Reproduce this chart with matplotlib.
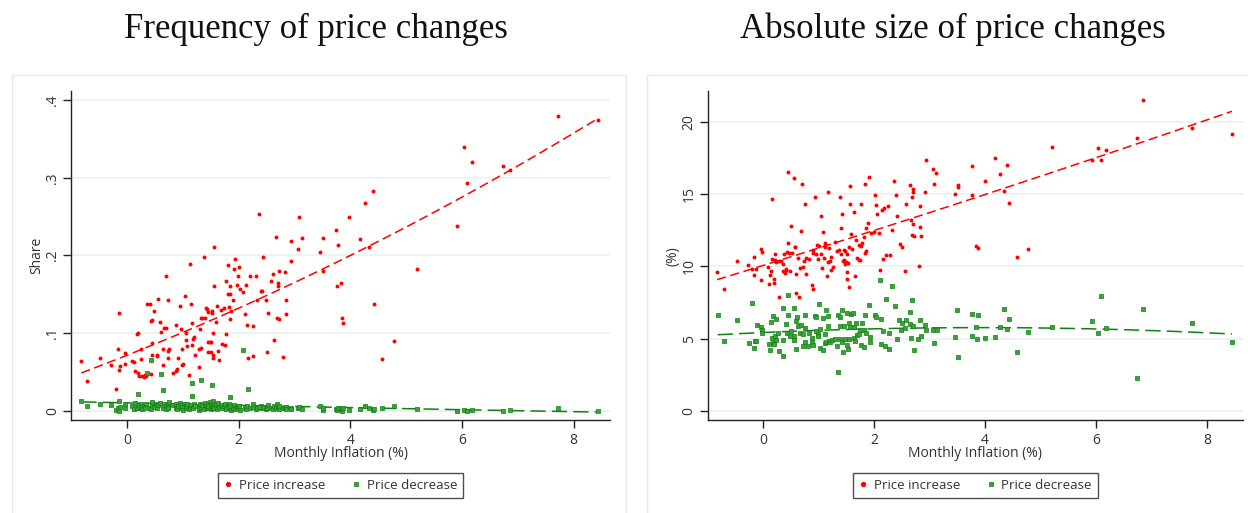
import numpy as np
import matplotlib
matplotlib.use('Agg')
import matplotlib.pyplot as plt
from matplotlib.patches import Rectangle
from matplotlib.lines import Line2D

plt.rcParams['font.family'] = ['Open Sans', 'DejaVu Sans']

RED = '#ff0000'
GREEN = '#0b840b'
GREEN_FACE = '#3f9e3f'

# --- frequency panel: one inflation value per month, share of increases / decreases
freq_x = [-0.82, -0.71, -0.48, -0.28, -0.20, -0.16, -0.14, -0.14, -0.12, -0.04,
          -0.03, 0.09, 0.12, 0.14, 0.17, 0.20, 0.19, 0.22, 0.24, 0.25,
          0.27, 0.30, 0.32, 0.34, 0.35, 0.41, 0.43, 0.44, 0.45, 0.43,
          0.45, 0.49, 0.54, 0.53, 0.55, 0.58, 0.60, 0.64, 0.64, 0.66,
          0.69, 0.69, 0.73, 0.74, 0.75, 0.74, 0.82, 0.87, 0.87, 0.90,
          0.92, 0.94, 0.96, 0.98, 0.98, 1.00, 1.03, 1.05, 1.06, 1.08,
          1.11, 1.12, 1.14, 1.16, 1.16, 1.18, 1.19, 1.22, 1.28, 1.29,
          1.31, 1.32, 1.33, 1.34, 1.38, 1.39, 1.42, 1.43, 1.44, 1.45,
          1.45, 1.48, 1.50, 1.51, 1.52, 1.52, 1.53, 1.53, 1.54, 1.55,
          1.56, 1.59, 1.61, 1.62, 1.65, 1.68, 1.70, 1.73, 1.76, 1.77,
          1.78, 1.80, 1.81, 1.83, 1.84, 1.84, 1.85, 1.86, 1.90, 1.91,
          1.94, 1.96, 1.99, 2.01, 2.02, 2.08, 2.12, 2.13, 2.15, 2.17,
          2.20, 2.25, 2.26, 2.31, 2.33, 2.39, 2.41, 2.44, 2.48, 2.51,
          2.53, 2.57, 2.36, 2.62, 2.64, 2.67, 2.68, 2.70, 2.70, 2.72,
          2.72, 2.80, 2.83, 2.84, 2.84, 2.93, 2.94, 3.06, 3.07, 3.13,
          3.45, 3.51, 3.50, 3.74, 3.76, 3.78, 3.84, 3.85, 3.87, 3.97,
          4.18, 4.26, 4.34, 4.40, 4.43, 4.57, 4.78, 5.20, 5.91, 6.03,
          6.08, 6.18, 6.73, 6.85, 7.72, 8.44]
freq_inc = [.064, .038, .068, .059, .028, .080, .126, .052, .057, .074,
            .060, .064, .063, .051, .099, .100, .049, .044, .079, .067,
            .044, .043, .046, .044, .138, .137, .116, .117, .087, .047,
            .072, .129, .072, .070, .144, .114, .101, .059, .079, .106,
            .106, .173, .068, .142, .080, .077, .048, .110, .051, .053,
            .068, .135, .105, .079, .059, .060, .148, .100, .091, .083,
            .046, .189, .137, .113, .084, .092, .095, .072, .080, .056,
            .105, .120, .081, .119, .198, .119, .132, .131, .127, .076,
            .088, .089, .076, .088, .129, .126, .072, .068, .100, .160,
            .211, .114, .135, .077, .065, .130, .086, .132, .085, .099,
            .167, .188, .150, .133, .118, .160, .150, .129, .142, .183,
            .196, .162, .173, .185, .157, .153, .124, .162, .110, .068,
            .173, .109, .071, .173, .142, .154, .154, .198, .142, .076,
            .126, .167, .254, .176, .091, .224, .120, .164, .160, .180,
            .118, .069, .179, .142, .124, .219, .193, .208, .249, .223,
            .204, .222, .180, .233, .160, .214, .165, .119, .113, .249,
            .221, .268, .211, .283, .137, .067, .090, .182, .238, .340,
            .293, .320, .315, .310, .380, .374]
freq_dec = [.013, .006, .008, .007, .001, .003, .012, .000, .005, .004,
            .009, .006, .002, .010, .004, .021, .007, .003, .009, .005,
            .002, .006, .003, .008, .049, .004, .065, .009, .006, .002,
            .011, .005, .008, .003, .007, .010, .047, .026, .004, .008,
            .006, .002, .009, .005, .011, .003, .007, .004, .009, .002,
            .006, .010, .003, .007, .005, .001, .008, .004, .006, .009,
            .002, .005, .007, .035, .019, .003, .008, .006, .001, .004,
            .009, .039, .005, .007, .002, .010, .006, .003, .008, .004,
            .006, .011, .002, .007, .033, .005, .009, .003, .012, .006,
            .004, .008, .002, .010, .005, .007, .003, .006, .009, .004,
            .002, .007, .005, .008, .017, .003, .006, .001, .004, .007,
            .002, .005, .003, .006, .001, .078, .004, .002, .006, .028,
            .003, .009, .005, .002, .004, .006, .003, .005, .002, .004,
            .007, .003, .005, .002, .006, .004, .008, .003, .005, .002,
            .006, .004, .003, .005, .002, .004, .002, .003, .005, .002,
            .006, .001, .003, .002, .001, .004, .002, .000, .003, .001,
            .002, .006, .003, .001, .002, .004, .006, .002, .000, .001,
            .000, .001, .000, .001, .003, .000]

# --- size panel (%), increases
size_inc_x = [-0.83, -0.71, -0.48, -0.28, -0.21, -0.17, -0.13, -0.16, -0.04, -0.03,
              -0.04, 0.08, 0.11, 0.13, 0.14, 0.16, 0.16, 0.19, 0.20, 0.21,
              0.22, 0.24, 0.28, 0.28, 0.33, 0.35, 0.36, 0.38, 0.40, 0.42,
              0.42, 0.43, 0.44, 0.45, 0.46, 0.48, 0.50, 0.52, 0.55, 0.57,
              0.58, 0.59, 0.60, 0.62, 0.64, 0.67, 0.69, 0.70, 0.72, 0.74,
              0.75, 0.77, 0.78, 0.82, 0.88, 0.89, 0.89, 0.90, 0.94, 0.96,
              0.97, 0.99, 1.01, 1.04, 1.04, 1.06, 1.08, 1.09, 1.11, 1.11,
              1.12, 1.15, 1.16, 1.17, 1.18, 1.20, 1.22, 1.23, 1.25, 1.29,
              1.33, 1.36, 1.38, 1.40, 1.41, 1.43, 1.44, 1.45, 1.46, 1.47,
              1.48, 1.50, 1.52, 1.52, 1.52, 1.53, 1.54, 1.54, 1.56, 1.57,
              1.59, 1.61, 1.63, 1.66, 1.67, 1.70, 1.72, 1.73, 1.74, 1.76,
              1.77, 1.79, 1.81, 1.83, 1.84, 1.85, 1.86, 1.89, 1.91, 1.94,
              1.99, 2.02, 2.04, 2.06, 2.09, 2.11, 2.15, 2.16, 2.18, 2.21,
              2.25, 2.28, 2.32, 2.35, 2.40, 2.42, 2.47, 2.50, 2.55, 2.57,
              2.65, 2.66, 2.68, 2.69, 2.70, 2.71, 2.71, 2.72, 2.81, 2.83,
              2.83, 2.84, 2.91, 2.94, 3.06, 3.08, 3.12, 3.46, 3.51, 3.52,
              3.76, 3.76, 3.84, 3.87, 3.99, 4.18, 4.27, 4.35, 4.40, 4.43,
              4.58, 4.78, 5.20, 5.92, 6.03, 6.09, 6.18, 6.74, 6.84, 7.73,
              8.45]
size_inc = [9.62, 8.46, 10.36, 10.10, 9.80, 10.66, 9.80, 9.41, 11.21, 10.98,
            9.06, 9.99, 8.79, 9.41, 9.71, 14.68, 10.50, 9.11, 8.86, 10.87,
            10.45, 10.27, 7.91, 10.38, 10.34, 9.71, 10.13, 10.87, 9.53, 9.85,
            9.76, 10.98, 11.65, 16.51, 10.94, 9.66, 12.83, 10.91, 16.12, 11.33,
            11.35, 9.46, 8.14, 10.59, 7.86, 9.92, 12.46, 15.72, 9.97, 10.34,
            14.34, 9.50, 10.57, 10.52, 8.69, 8.42, 11.10, 10.96, 14.84, 10.84,
            11.45, 10.50, 11.38, 10.84, 13.48, 9.87, 12.37, 10.61, 11.33, 11.47,
            11.63, 9.32, 15.17, 10.31, 11.24, 10.40, 9.76, 10.68, 9.99, 11.68,
            11.08, 11.14, 14.82, 10.84, 12.65, 13.60, 10.36, 10.45, 11.10, 10.17,
            11.05, 10.29, 9.62, 9.13, 10.84, 10.22, 8.55, 11.33, 14.29, 15.54,
            12.25, 11.21, 13.76, 9.36, 11.84, 10.59, 10.43, 11.51, 10.47, 14.29,
            11.38, 11.63, 12.02, 15.72, 10.96, 12.65, 11.08, 13.02, 16.16, 12.30,
            12.35, 14.91, 14.22, 13.64, 12.28, 9.76, 13.92, 10.50, 14.06, 10.80,
            14.17, 10.77, 12.55, 15.93, 14.94, 13.50, 11.56, 11.31, 9.69, 14.34,
            15.61, 13.23, 12.14, 14.80, 15.17, 15.35, 12.95, 12.12, 10.03, 14.20,
            12.76, 12.07, 15.12, 17.34, 16.74, 15.68, 16.44, 15.01, 15.49, 15.61,
            16.97, 14.94, 11.42, 11.28, 15.88, 17.50, 16.37, 15.24, 17.02, 14.36,
            10.66, 11.17, 18.27, 17.34, 18.20, 17.34, 18.08, 18.89, 21.50, 19.58,
            19.17]

# --- size panel (%), decreases
size_dec_x = [-0.82, -0.70, -0.47, -0.26, -0.20, -0.16, -0.14, -0.13, -0.12, -0.04,
              -0.02, -0.02, 0.10, 0.13, 0.14, 0.16, 0.17, 0.18, 0.20, 0.22,
              0.23, 0.24, 0.26, 0.29, 0.36, 0.36, 0.36, 0.42, 0.43, 0.44,
              0.45, 0.48, 0.50, 0.55, 0.56, 0.56, 0.59, 0.60, 0.61, 0.62,
              0.67, 0.69, 0.71, 0.72, 0.75, 0.76, 0.76, 0.81, 0.82, 0.88,
              0.88, 0.90, 0.93, 0.96, 0.96, 0.98, 0.98, 1.00, 1.02, 1.03,
              1.07, 1.08, 1.11, 1.12, 1.13, 1.14, 1.16, 1.17, 1.18, 1.21,
              1.24, 1.30, 1.33, 1.34, 1.35, 1.38, 1.39, 1.39, 1.42, 1.43,
              1.44, 1.45, 1.48, 1.51, 1.52, 1.53, 1.54, 1.55, 1.56, 1.58,
              1.62, 1.63, 1.64, 1.66, 1.68, 1.70, 1.72, 1.74, 1.77, 1.79,
              1.81, 1.82, 1.84, 1.85, 1.91, 1.93, 1.93, 2.02, 2.03, 2.10,
              2.13, 2.13, 2.16, 2.20, 2.22, 2.26, 2.27, 2.33, 2.37, 2.42,
              2.45, 2.49, 2.51, 2.55, 2.58, 2.64, 2.65, 2.66, 2.68, 2.70,
              2.72, 2.79, 2.82, 2.84, 2.92, 2.94, 3.07, 3.08, 3.13, 3.45,
              3.50, 3.52, 3.76, 3.87, 3.76, 3.84, 3.86, 3.99, 4.18, 4.27,
              4.35, 4.40, 4.43, 4.58, 4.78, 5.20, 5.92, 6.03, 6.09, 6.18,
              6.74, 6.84, 7.73, 8.45]
size_dec = [6.64, 4.86, 6.27, 4.72, 7.47, 4.35, 4.86, 4.81, 5.95, 5.83,
            5.58, 5.41, 4.60, 4.23, 6.16, 5.07, 6.55, 4.70, 4.60, 5.18,
            6.32, 4.88, 5.39, 4.16, 3.82, 7.13, 4.88, 6.02, 5.41, 8.03,
            6.62, 5.16, 5.51, 4.88, 7.10, 5.21, 6.22, 4.26, 6.50, 5.88,
            5.39, 5.95, 5.30, 4.47, 5.76, 6.60, 4.74, 4.51, 5.41, 4.77,
            5.07, 4.58, 6.55, 6.50, 5.53, 5.28, 5.18, 7.38, 4.35, 5.67,
            6.41, 4.23, 5.34, 4.67, 4.79, 6.99, 6.55, 5.90, 4.84, 4.79,
            4.88, 4.95, 4.47, 6.60, 2.68, 6.50, 5.85, 5.00, 7.01, 4.74,
            4.05, 5.88, 4.97, 6.80, 4.58, 4.30, 4.97, 6.11, 5.81, 6.73,
            6.80, 5.02, 5.81, 4.84, 6.09, 5.23, 5.32, 5.62, 4.53, 6.11,
            5.62, 4.42, 6.64, 5.41, 7.29, 4.74, 5.14, 6.66, 6.46, 9.03,
            4.63, 6.32, 5.53, 4.47, 7.73, 5.39, 4.30, 8.63, 7.24, 5.00,
            6.27, 5.62, 6.11, 5.72, 6.25, 6.87, 6.04, 5.04, 7.64, 5.88,
            4.19, 5.00, 6.27, 5.18, 5.97, 5.58, 5.62, 4.72, 5.62, 5.14,
            7.01, 3.72, 6.68, 6.64, 5.18, 5.83, 4.95, 5.06, 5.13, 5.83,
            7.08, 5.64, 6.34, 4.05, 5.48, 5.83, 6.20, 5.41, 7.95, 5.73,
            2.24, 7.08, 6.08, 4.76]

W, H = 1248, 513


def px_box(x0, y0, x1, y1):
    # pixel box (top-left origin) -> figure fraction rect
    return [x0 / W, 1 - y1 / H, (x1 - x0) / W, (y1 - y0) / H]


def qfit(x, y, ax, color, dashes):
    x = np.asarray(x)
    c = np.polyfit(x, np.asarray(y), 2)
    xs = np.linspace(x.min(), x.max(), 200)
    ax.plot(xs, np.polyval(c, xs), color=color, lw=1.1, dashes=dashes, zorder=3)


def style(ax, yticks, ylabels, ylim, ylab):
    ax.set_xlim(-1.0, 8.65)
    ax.set_ylim(*ylim)
    ax.set_xticks([0, 2, 4, 6, 8])
    ax.set_yticks(yticks)
    ax.set_yticklabels(ylabels, rotation=90, va='center')
    ax.grid(axis='y', color='#eaf1f3', lw=1.2)
    ax.set_axisbelow(True)
    for s in ('top', 'right'):
        ax.spines[s].set_visible(False)
    for s in ('left', 'bottom'):
        ax.spines[s].set_color('#222222')
        ax.spines[s].set_linewidth(1.0)
    ax.tick_params(length=6, width=1, color='#222222', labelsize=10,
                   labelcolor='#333333', pad=3)
    ax.tick_params(axis='y', pad=2)
    ax.set_ylabel(ylab, fontsize=10, color='#333333', labelpad=1)
    ax.set_xlabel('Monthly Inflation (%)', fontsize=10, color='#333333', labelpad=-1)
    handles = [Line2D([], [], ls='none', marker='o', ms=2.8, color=RED),
               Line2D([], [], ls='none', marker='s', ms=2.3, mfc=GREEN_FACE,
                      mec=GREEN, mew=0.5)]
    leg = ax.legend(handles, ['Price increase', 'Price decrease'], ncol=2,
                    loc='upper center', bbox_to_anchor=(0.5, -0.14),
                    frameon=True, fancybox=False, fontsize=9.6,
                    handlelength=0.6, handletextpad=0.5, columnspacing=2.0,
                    borderpad=0.45)
    leg.get_frame().set_edgecolor('#222222')
    leg.get_frame().set_linewidth(1.0)
    for t in leg.get_texts():
        t.set_color('#333333')


fig = plt.figure(figsize=(W / 100, H / 100), dpi=100)

# light outer boxes around each graph
for x0, x1 in ((11.7, 626), (647.3, 1260)):
    fig.patches.append(Rectangle((x0 / W, -0.05), (x1 - x0) / W, 1.05 - 75 / H,
                                 transform=fig.transFigure, fill=False,
                                 edgecolor='#e2eaed', lw=1.0))

fig.text(316 / W, 1 - 29 / H, 'Frequency of price changes', ha='center', va='center',
         fontsize=25, family='Liberation Serif', color='#111111')
fig.text(953 / W, 1 - 29 / H, 'Absolute size of price changes', ha='center', va='center',
         fontsize=25, family='Liberation Serif', color='#111111')

ax1 = fig.add_axes(px_box(71.3, 91, 610, 420.3))
ax1.scatter(freq_x, freq_inc, s=8, color=RED, marker='o', lw=0, zorder=4)
ax1.scatter(freq_x, freq_dec, s=5.5, facecolor=GREEN_FACE, edgecolor=GREEN,
            marker='s', lw=0.5, zorder=4)
qfit(freq_x, freq_inc, ax1, RED, (6, 3))
qfit(freq_x, freq_dec, ax1, GREEN, (10, 4))
style(ax1, [0, .1, .2, .3, .4], ['0', '.1', '.2', '.3', '.4'], (-0.0125, 0.412), 'Share')

ax2 = fig.add_axes(px_box(707.7, 91, 1243, 420.3))
ax2.scatter(size_inc_x, size_inc, s=8, color=RED, marker='o', lw=0, zorder=4)
ax2.scatter(size_dec_x, size_dec, s=5.5, facecolor=GREEN_FACE, edgecolor=GREEN,
            marker='s', lw=0.5, zorder=4)
qfit(size_inc_x, size_inc, ax2, RED, (6, 3))
qfit(size_dec_x, size_dec, ax2, GREEN, (10, 4))
style(ax2, [0, 5, 10, 15, 20], ['0', '5', '10', '15', '20'], (-0.665, 22.15), '(%)')

fig.savefig('out.png', dpi=100)
